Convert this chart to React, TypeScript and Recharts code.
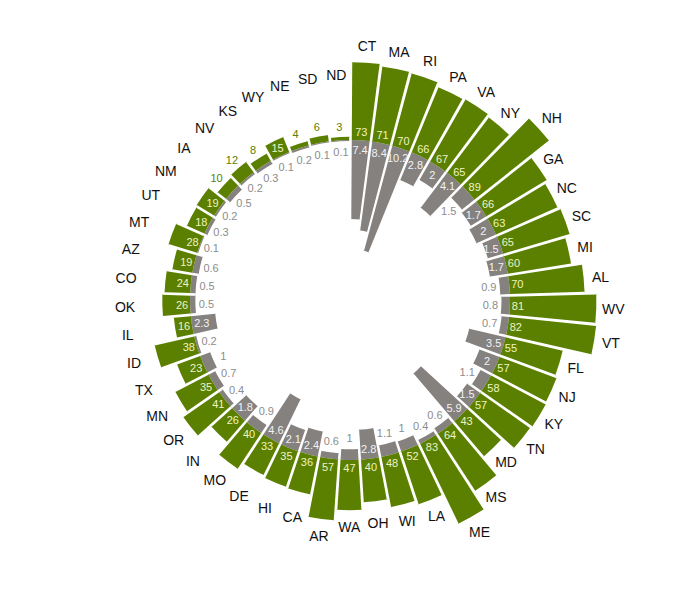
import React from 'react';
import { RadialBarChart, RadialBar, PolarAngleAxis, PolarRadiusAxis, Sector } from 'recharts';

const states = [
  'CT', 'MA', 'RI', 'PA', 'VA', 'NY', 'NH', 'GA', 'NC', 'SC', 'MI', 'AL', 'WV', 'VT', 'FL', 'NJ', 'KY',
  'TN', 'MD', 'MS', 'ME', 'LA', 'WI', 'OH', 'WA', 'AR', 'CA', 'HI', 'DE', 'MO', 'IN', 'OR', 'MN', 'TX',
  'ID', 'IL', 'OK', 'CO', 'AZ', 'MT', 'UT', 'NM', 'IA', 'NV', 'KS', 'WY', 'NE', 'SD', 'ND',
];

const greenValues = [
  73, 71, 70, 66, 67, 65, 89, 66, 63, 65, 60, 70, 81, 82, 55, 57, 58,
  57, 43, 64, 83, 52, 48, 40, 47, 57, 36, 35, 33, 40, 26, 41, 35, 23,
  38, 16, 26, 24, 19, 28, 18, 19, 10, 12, 8, 15, 4, 6, 3,
];

const grayValues = [
  7.4, 8.4, 10.2, 2.8, 2, 4.1, 1.5, 1.7, 2, 1.5, 1.7, 0.9, 0.8, 0.7, 3.5, 2, 1.1,
  1.5, 5.9, 0.6, 0.4, 1, 1.1, 2.8, 1, 0.6, 2.4, 2.1, 4.6, 0.9, 1.8, 0.4, 0.7, 1,
  0.2, 2.3, 0.5, 0.5, 0.6, 0.1, 0.3, 0.2, 0.5, 0.2, 0.3, 0.1, 0.2, 0.1, 0.1,
];

// gray labels that sit below their bar even though the value is large enough
const grayLabelOutside = ['NH'];

const GREEN = '#5b8000';
const GRAY = '#85817f';
const RING = 150; // radius-axis value where gray meets green
const GRAY_SCALE = 10; // gray bars are drawn 10x, inward from the ring
const RAD = Math.PI / 180;
// recharts lays each band counter-clockwise from its tick, so start one band early
const STEP = 360 / states.length;

const data = states.map((state, i) => ({
  state,
  green: greenValues[i],
  gray: grayValues[i],
  base: RING - grayValues[i] * GRAY_SCALE,
  grayLen: grayValues[i] * GRAY_SCALE,
}));

const pt = (cx: number, cy: number, r: number, a: number) => ({
  x: cx + r * Math.cos(-a * RAD),
  y: cy + r * Math.sin(-a * RAD),
});

function Edges({ cx, cy, innerRadius, outerRadius, startAngle, endAngle }: any) {
  return (
    <>
      {[startAngle, endAngle].map((a: number, i: number) => {
        const p1 = pt(cx, cy, innerRadius, a);
        const p2 = pt(cx, cy, outerRadius, a);
        return <line key={i} x1={p1.x} y1={p1.y} x2={p2.x} y2={p2.y} stroke="#fff" strokeWidth={1.6} />;
      })}
    </>
  );
}

function GrayShape(props: any) {
  const { cx, cy, innerRadius, outerRadius, startAngle, endAngle, payload } = props;
  const mid = (startAngle + endAngle) / 2;
  const inside = payload.gray >= 1.5 && !grayLabelOutside.includes(payload.state);
  const p = pt(cx, cy, inside ? outerRadius - 10 : innerRadius - 11, mid);
  return (
    <g>
      <Sector cx={cx} cy={cy} innerRadius={innerRadius} outerRadius={outerRadius}
        startAngle={startAngle} endAngle={endAngle} fill={GRAY} />
      <Edges {...props} />
      <text x={p.x} y={p.y} textAnchor="middle" dominantBaseline="central"
        fontSize={11} fill={inside ? '#f2f2f2' : '#8c8c8c'}>
        {payload.gray}
      </text>
    </g>
  );
}

function GreenShape(props: any) {
  const { cx, cy, innerRadius, outerRadius, startAngle, endAngle, payload } = props;
  const mid = (startAngle + endAngle) / 2;
  const inside = payload.green >= 15;
  const v = pt(cx, cy, inside ? innerRadius + 8 : outerRadius + 10, mid);
  const s = pt(cx, cy, Math.max(outerRadius + 17, innerRadius + 65), mid);
  return (
    <g>
      <Sector cx={cx} cy={cy} innerRadius={innerRadius} outerRadius={outerRadius}
        startAngle={startAngle} endAngle={endAngle} fill={GREEN} />
      <Edges {...props} />
      <text x={v.x} y={v.y} textAnchor="middle" dominantBaseline="central"
        fontSize={11} fill={inside ? '#eef3c4' : GREEN}>
        {payload.green}
      </text>
      <text x={s.x} y={s.y} textAnchor="middle" dominantBaseline="central"
        fontSize={14} fill="#111">
        {payload.state}
      </text>
    </g>
  );
}

export default function App() {
  return (
    <div style={{ position: 'absolute', left: 0, top: 0, width: 700, height: 601, background: '#fff', fontFamily: '"Liberation Sans", Arial, sans-serif' }}>
      <RadialBarChart
        width={700}
        height={601}
        data={data}
        layout="centric"
        cx={350}
        cy={300}
        innerRadius={0}
        outerRadius={320}
        startAngle={90 - STEP}
        endAngle={-270 - STEP}
        barCategoryGap={0}
        barGap={0}
        margin={{ top: 0, right: 0, bottom: 0, left: 0 }}
      >
        <PolarAngleAxis type="category" dataKey="state" tick={false} axisLine={false} tickLine={false} />
        <PolarRadiusAxis type="number" domain={[0, 300]} tick={false} axisLine={false} tickLine={false} />
        <RadialBar dataKey="base" stackId="a" fill="none" shape={() => <g />} isAnimationActive={false} />
        <RadialBar dataKey="grayLen" stackId="a" fill={GRAY} shape={GrayShape} isAnimationActive={false} />
        <RadialBar dataKey="green" stackId="a" fill={GREEN} shape={GreenShape} isAnimationActive={false} />
      </RadialBarChart>
    </div>
  );
}
